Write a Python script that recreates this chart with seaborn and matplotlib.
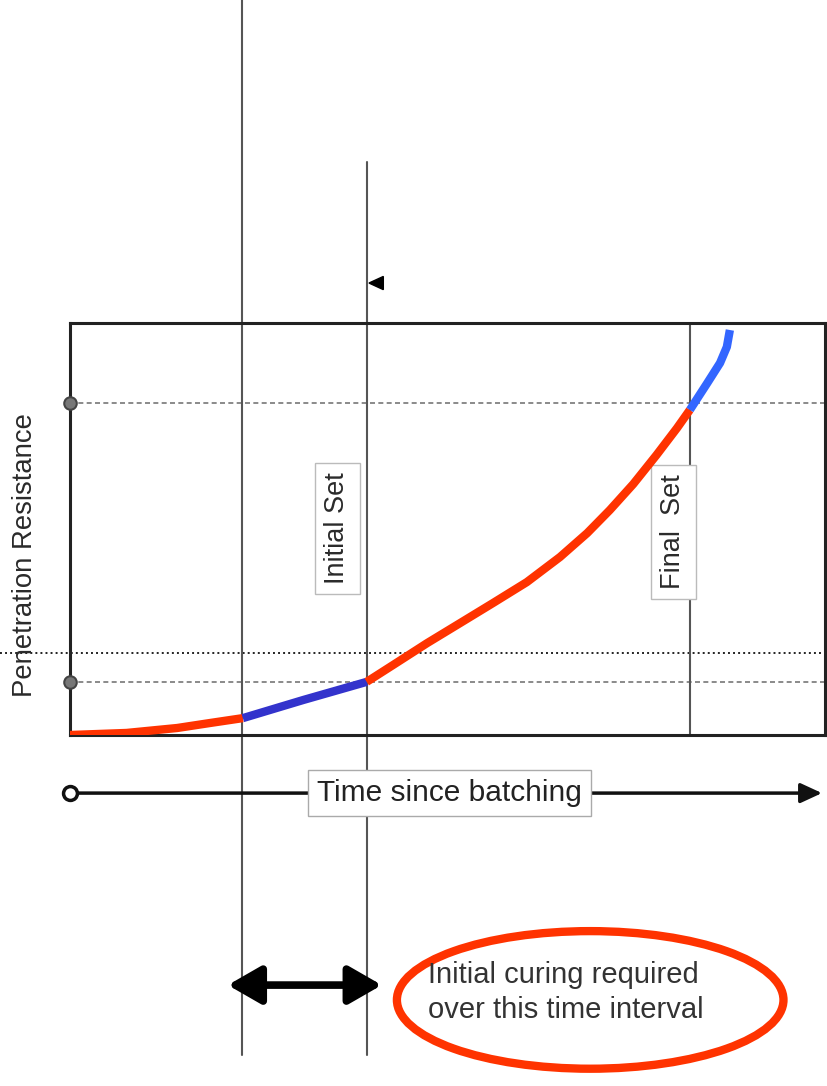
import numpy as np
import pandas as pd
import matplotlib
matplotlib.use("Agg")
import matplotlib.pyplot as plt
import seaborn as sns
from matplotlib.patches import Ellipse, Polygon

sns.set_style("white")
plt.rcParams['font.family'] = ['Liberation Sans', 'DejaVu Sans']

# ---- data (time in % of window, resistance in % of window) ----
seg_names = ["pre", "initial_curing", "setting", "hardening"]
seg_colors = ["#ff3300", "#3333cc", "#ff3300", "#3366ff"]
seg_time = [
    [0.0, 7.5, 14.2, 18.5, 22.9],
    [22.9, 30.9, 39.3],
    [39.3, 42.8, 47.3, 51.7, 56.0, 60.5, 64.9, 68.5, 71.5, 74.6, 77.7, 80.4, 82.1],
    [82.1, 84.4, 86.1, 87.0, 87.4],
]
seg_resist = [
    [0.0, 0.5, 1.7, 2.9, 4.1],
    [4.1, 8.5, 12.9],
    [12.9, 17.0, 22.3, 27.2, 32.0, 37.1, 43.2, 49.0, 54.6, 60.9, 68.0, 74.5, 78.9],
    [78.9, 85.4, 90.3, 94.2, 98.3],
]
initial_set_time = 39.3
final_set_time = 82.1
curing_start_time = 22.8
initial_set_resist = 12.9
final_set_resist = 80.6
threshold_resist = 19.9

rows = []
for name, t, r in zip(seg_names, seg_time, seg_resist):
    for ti, ri in zip(t, r):
        rows.append({"segment": name, "time": ti, "resistance": ri})
df = pd.DataFrame(rows)

fig = plt.figure(figsize=(8.27, 10.86), dpi=100)
ax = fig.add_axes([70/827, 1-735/1086, 755/827, 412/1086])
ax.set_xlim(0, 100)
ax.set_ylim(0, 100)
ax.set_xticks([]); ax.set_yticks([])
for s in ax.spines.values():
    s.set_color("#222222"); s.set_linewidth(2.2)

# reference lines
ax.axhline(final_set_resist, color="#777777", lw=1.2, ls=(0, (3, 2)), zorder=1)
ax.axhline(initial_set_resist, color="#777777", lw=1.2, ls=(0, (3, 2)), zorder=1)
ax.plot([-9.3, 100], [threshold_resist] * 2, color="#222222", lw=1.4,
        ls=(0, (1, 1.6)), clip_on=False, zorder=1)

# vertical lines
ax.plot([curing_start_time] * 2, [178.4, -77.7], color="#555555", lw=1.5, clip_on=False, zorder=1)
ax.plot([initial_set_time] * 2, [139.0, -77.7], color="#555555", lw=1.5, clip_on=False, zorder=1)
ax.plot([final_set_time] * 2, [0, 100], color="#555555", lw=1.5, zorder=1)

# small arrowhead on initial set line
ax.add_patch(Polygon([[39.6, 109.7], [41.5, 111.3], [41.5, 108.1]], closed=True,
                     color="black", clip_on=False))

# markers on left axis
ax.plot([0, 0], [final_set_resist, initial_set_resist], "o", ms=9, mfc="#777777",
        mec="#444444", mew=1.5, clip_on=False, zorder=5)

# curve
for name, c in zip(seg_names, seg_colors):
    sns.lineplot(data=df[df.segment == name], x="time", y="resistance", color=c,
                 lw=6, ax=ax, sort=False, estimator=None, zorder=4,
                 solid_capstyle="butt", solid_joinstyle="round")
ax.set_xlabel(""); ax.set_ylabel("")

box = dict(boxstyle="square,pad=0.35", fc="white", ec="#bbbbbb", lw=1)
ax.text(35.4, 50.2, "Initial Set", rotation=90, ha="center", va="center",
        fontsize=19.5, color="#2a2a2a", bbox=box, zorder=3)
ax.text(79.9, 49.3, "Final  Set", rotation=90, ha="center", va="center",
        fontsize=19.5, color="#2a2a2a", bbox=box, zorder=3)
ax.text(-6.0, 43.7, "Penetration Resistance", rotation=90, ha="center", va="center",
        fontsize=19.8, color="#2a2a2a", clip_on=False)

# time axis
ax.annotate("", xy=(99.6, -14.1), xytext=(0, -14.1), annotation_clip=False,
            arrowprops=dict(arrowstyle="-|>,head_length=1.3,head_width=0.6",
                            color="#111111", lw=2.5, shrinkA=0, shrinkB=0))
ax.plot([0], [-14.1], "o", ms=10, mfc="white", mec="#111111", mew=2.5,
        clip_on=False, zorder=6)
ax.text(50.3, -14.1, "Time since batching", ha="center", va="center",
        fontsize=21.5, color="#222222", clip_on=False,
        bbox=dict(boxstyle="square,pad=0.3", fc="white", ec="#aaaaaa", lw=1), zorder=5)

# double arrow
ax.annotate("", xy=(41.3, -60.7), xytext=(20.9, -60.7), annotation_clip=False,
            arrowprops=dict(arrowstyle="<|-|>,head_length=2.0,head_width=1.15",
                            color="black", lw=5.5, shrinkA=0, shrinkB=0))

# ellipse with note
ax.add_patch(Ellipse((68.9, -64.3), 51.2, 33.4, fill=False, ec="#ff3300", lw=6,
                     clip_on=False))
ax.text(47.4, -58.3, "Initial curing required", ha="left", va="center",
        fontsize=21, color="#333333", clip_on=False)
ax.text(47.4, -66.7, "over this time interval", ha="left", va="center",
        fontsize=21, color="#333333", clip_on=False)

fig.savefig("out.png", dpi=100)
